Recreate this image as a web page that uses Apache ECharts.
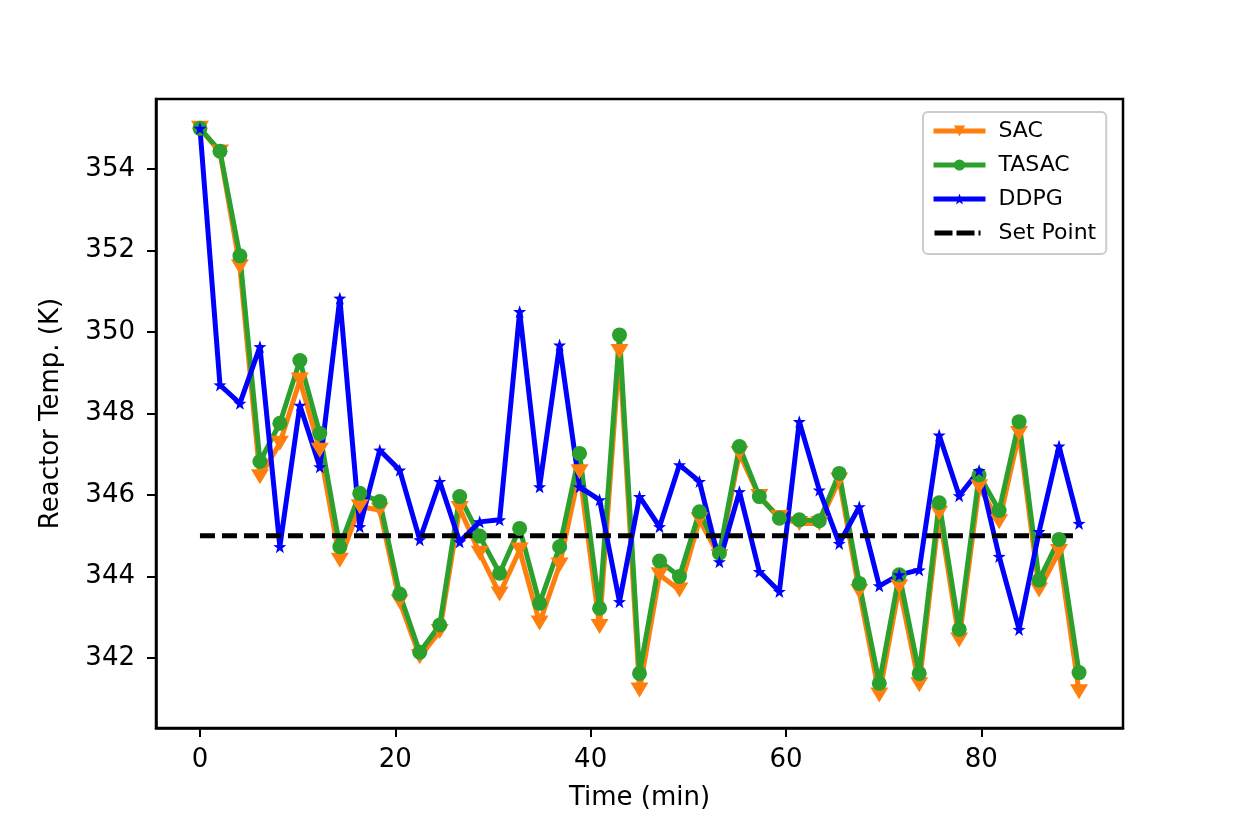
<!DOCTYPE html>
<html>
<head>
<meta charset="utf-8">
<script src="https://cdn.jsdelivr.net/npm/echarts@6/dist/echarts.min.js"></script>
<style>
  html, body { margin: 0; padding: 0; background: #fff; }
  #chart { width: 1248px; height: 832px; }
</style>
</head>
<body>
<div id="chart"></div>
<script>
// time samples (min)
var times = [0, 2.05, 4.09, 6.14, 8.18, 10.23, 12.27, 14.32, 16.36, 18.41,
  20.45, 22.5, 24.55, 26.59, 28.64, 30.68, 32.73, 34.77, 36.82, 38.86,
  40.91, 42.95, 45.0, 47.05, 49.09, 51.14, 53.18, 55.23, 57.27, 59.32,
  61.36, 63.41, 65.45, 67.5, 69.55, 71.59, 73.64, 75.68, 77.73, 79.77,
  81.82, 83.86, 85.91, 87.95, 90.0];

var sac = [355.0, 354.42, 351.6, 346.45, 347.27, 348.82, 347.1, 344.4, 345.71, 345.63,
  343.38, 342.03, 342.65, 345.67, 344.57, 343.57, 344.65, 342.86, 344.28, 346.57,
  342.77, 349.52, 341.21, 344.04, 343.67, 345.39, 344.49, 347.02, 345.96, 345.45,
  345.3, 345.3, 346.37, 343.63, 341.09, 343.75, 341.34, 345.55, 342.44, 346.2,
  345.34, 347.51, 343.67, 344.61, 341.17];

var tasac = [355.0, 354.44, 351.87, 346.82, 347.76, 349.3, 347.51, 344.73, 346.04, 345.84,
  343.57, 342.14, 342.81, 345.96, 344.99, 344.08, 345.18, 343.34, 344.73, 347.02,
  343.22, 349.93, 341.62, 344.38, 344.0, 345.59, 344.57, 347.19, 345.96, 345.43,
  345.39, 345.37, 346.53, 343.83, 341.38, 344.04, 341.62, 345.81, 342.7, 346.49,
  345.62, 347.8, 343.91, 344.91, 341.64];

var ddpg = [355.0, 348.7, 348.25, 349.64, 344.73, 348.2, 346.69, 350.83, 345.22, 347.1,
  346.61, 344.9, 346.33, 344.85, 345.34, 345.39, 350.5, 346.2, 349.68, 346.2,
  345.88, 343.38, 345.96, 345.22, 346.74, 346.33, 344.36, 346.08, 344.12, 343.63,
  347.8, 346.12, 344.81, 345.71, 343.77, 344.04, 344.16, 347.47, 345.98, 346.6,
  344.49, 342.7, 345.1, 347.2, 345.3];

var setPoint = 345;
var xTicks = [0, 20, 40, 60, 80];
var yTicks = [342, 344, 346, 348, 350, 352, 354];

var starPath = 'path://M0,-10 L2.35,-3.24 L9.51,-3.09 L3.8,1.24 L5.88,8.09 L0,4 L-5.88,8.09 L-3.8,1.24 L-9.51,-3.09 L-2.35,-3.24 Z';
// dashed legend sample, with tiny corner specks so the box stays 52x14
var dashIcon = 'path://M0,0 L0.01,0 L0.01,0.01 Z M52,14 L51.99,14 L51.99,13.99 Z ' +
  'M1,4.6 H19 V9.4 H1 Z M23,4.6 H41 V9.4 H23 Z M45,4.6 H47 V9.4 H45 Z';

function pairs(ys) {
  return times.map(function (t, i) { return [t, ys[i]]; });
}

var myChart = echarts.init(document.getElementById('chart'));
var font = 'DejaVu Sans';
var option = {
  animation: false,
  backgroundColor: '#fff',
  grid: {
    left: 156, right: 125, top: 99, bottom: 104,
    show: true, borderColor: '#000', borderWidth: 2.5,
    containLabel: false
  },
  legend: {
    orient: 'vertical',
    left: 923, top: 112,
    padding: [8, 10, 10, 8],
    itemWidth: 52, itemHeight: 14, itemGap: 12,
    backgroundColor: '#fff',
    borderColor: '#cccccc', borderWidth: 2, borderRadius: 5,
    textStyle: { fontFamily: font, fontSize: 22, color: '#000', padding: [0, 0, 0, 8] },
    data: [
      { name: 'SAC', lineStyle: { width: 5 } },
      { name: 'TASAC', lineStyle: { width: 5 } },
      { name: 'DDPG', lineStyle: { width: 5 } },
      { name: 'Set Point', icon: dashIcon, itemStyle: { color: '#000' } }
    ]
  },
  xAxis: {
    type: 'value',
    min: -4.5, max: 94.5,
    name: 'Time (min)',
    nameLocation: 'middle',
    nameGap: 57,
    nameTextStyle: { fontFamily: font, fontSize: 26, color: '#000' },
    axisLine: { onZero: false, lineStyle: { color: '#000', width: 2.5 } },
    axisTick: { show: true, inside: false, length: 9, lineStyle: { color: '#000', width: 2 }, customValues: xTicks },
    axisLabel: { fontFamily: font, fontSize: 26, color: '#000', margin: 19, customValues: xTicks },
    splitLine: { show: false }
  },
  yAxis: {
    type: 'value',
    min: 340.28, max: 355.72,
    name: 'Reactor Temp. (K)',
    nameLocation: 'middle',
    nameGap: 92,
    nameTextStyle: { fontFamily: font, fontSize: 26, color: '#000' },
    axisLine: { onZero: false, lineStyle: { color: '#000', width: 2.5 } },
    axisTick: { show: true, inside: false, length: 9, lineStyle: { color: '#000', width: 2 }, customValues: yTicks },
    axisLabel: { fontFamily: font, fontSize: 26, color: '#000', margin: 21, customValues: yTicks },
    splitLine: { show: false }
  },
  series: [
    {
      name: 'SAC', type: 'line', data: pairs(sac),
      symbol: 'triangle', symbolRotate: 180, symbolSize: [18, 15], showAllSymbol: true,
      lineStyle: { color: '#ff7f0e', width: 5 },
      itemStyle: { color: '#ff7f0e', borderWidth: 0 }
    },
    {
      name: 'TASAC', type: 'line', data: pairs(tasac),
      symbol: 'circle', symbolSize: 15, showAllSymbol: true,
      lineStyle: { color: '#2ca02c', width: 5 },
      itemStyle: { color: '#2ca02c', borderWidth: 0 }
    },
    {
      name: 'DDPG', type: 'line', data: pairs(ddpg),
      symbol: starPath, symbolSize: 13, showAllSymbol: true,
      lineStyle: { color: '#0000ff', width: 5 },
      itemStyle: { color: '#0000ff', borderWidth: 0 }
    },
    {
      name: 'Set Point', type: 'line',
      data: [[times[0], setPoint], [times[times.length - 1], setPoint]],
      symbol: 'none',
      lineStyle: { color: '#000', width: 5, type: [15, 7] },
      itemStyle: { color: '#000' }
    }
  ]
};
myChart.setOption(option);
</script>
</body>
</html>
